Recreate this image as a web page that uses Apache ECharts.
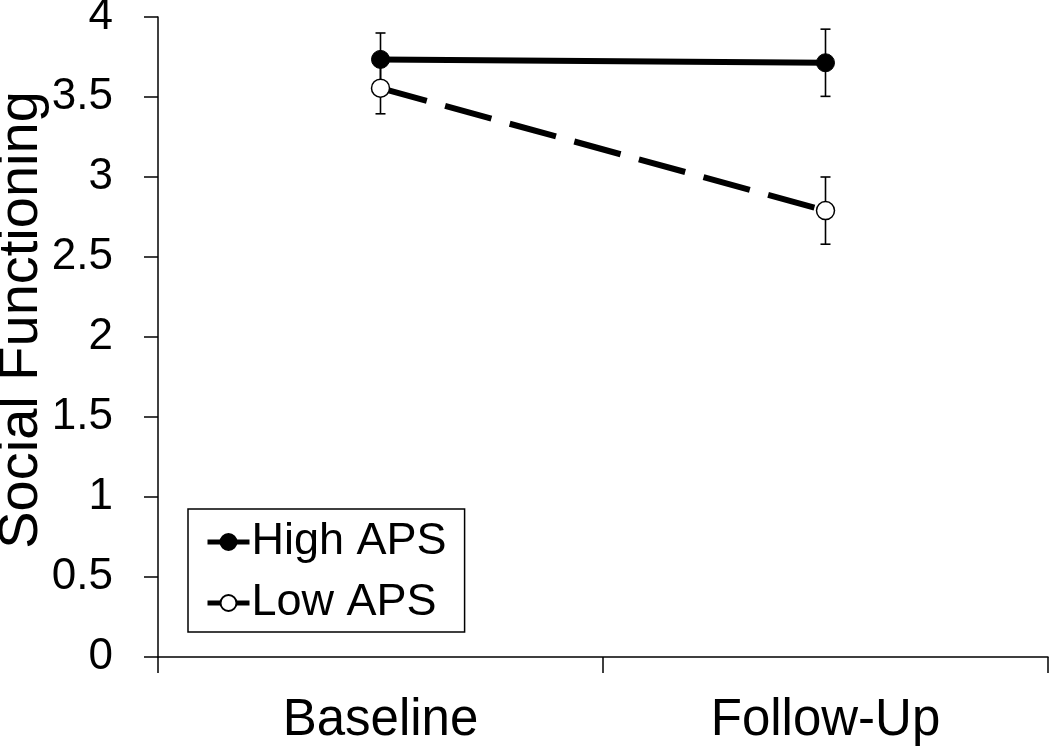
<!DOCTYPE html>
<html>
<head>
<meta charset="utf-8">
<script src="https://cdn.jsdelivr.net/npm/echarts@6/dist/echarts.min.js"></script>
<style>
html,body{margin:0;padding:0;background:#fff;}
#chart{width:1050px;height:748px;}
</style>
</head>
<body>
<div id="chart"></div>
<script>
const categories = ['Baseline', 'Follow-Up'];
const highAPS = [3.735, 3.714];
const highErr = [0.165, 0.21];
const lowAPS = [3.555, 2.79];
const lowErr = [0.16, 0.21];
const seriesNames = ['High APS', 'Low APS'];
const yTicks = { min: 0, max: 4, interval: 0.5 };

const FONT = '"Liberation Sans", Arial, sans-serif';

function errData(means, errs) {
  return means.map((m, i) => [i, m - errs[i], m + errs[i]]);
}
function errRender(params, api) {
  const x = api.value(0);
  const lo = api.coord([x, api.value(1)]);
  const hi = api.coord([x, api.value(2)]);
  const cap = 5;
  const st = { stroke: '#000', lineWidth: 1.6 };
  return {
    type: 'group',
    children: [
      { type: 'line', shape: { x1: lo[0], y1: lo[1], x2: hi[0], y2: hi[1] }, style: st },
      { type: 'line', shape: { x1: hi[0] - cap, y1: hi[1], x2: hi[0] + cap, y2: hi[1] }, style: st },
      { type: 'line', shape: { x1: lo[0] - cap, y1: lo[1], x2: lo[0] + cap, y2: lo[1] }, style: st }
    ]
  };
}

const chart = echarts.init(document.getElementById('chart'), null, { renderer: 'canvas' });
chart.setOption({
  animation: false,
  backgroundColor: '#fff',
  textStyle: { fontFamily: FONT, color: '#000' },
  grid: { left: 158, right: 2, top: 17, bottom: 91, containLabel: false, outerBoundsMode: 'none' },
  legend: {
    data: seriesNames.map(n => ({ name: n, lineStyle: { type: [100, 0], width: 5 } })),
    orient: 'vertical',
    left: 188,
    top: 509,
    padding: [8, 18, 4, 17],
    itemWidth: 42,
    itemHeight: 20,
    itemGap: 11,
    borderColor: '#000',
    borderWidth: 1.5,
    backgroundColor: '#fff',
    lineStyle: { type: [100, 0], width: 5 },
    textStyle: { fontFamily: FONT, fontSize: 45, color: '#000', lineHeight: 50, padding: [0, 0, 0, -3] }
  },
  xAxis: {
    type: 'category',
    data: categories,
    boundaryGap: true,
    axisLine: { lineStyle: { color: '#000', width: 1.5 } },
    axisTick: { show: true, length: 16, lineStyle: { color: '#000', width: 1.5 } },
    axisLabel: { fontFamily: FONT, fontSize: 51, color: '#000', margin: 38 }
  },
  yAxis: {
    type: 'value',
    min: yTicks.min,
    max: yTicks.max,
    interval: yTicks.interval,
    name: 'Social Functioning',
    nameLocation: 'middle',
    nameRotate: 90,
    nameGap: 108,
    nameMoveOverlap: false,
    nameTextStyle: { fontFamily: FONT, fontSize: 56, color: '#000', padding: [0, 0, 0, 34] },
    splitLine: { show: false },
    axisLine: { show: true, lineStyle: { color: '#000', width: 1.5 } },
    axisTick: { show: true, length: 14, lineStyle: { color: '#000', width: 1.5 } },
    axisLabel: { fontFamily: FONT, fontSize: 44, color: '#000', margin: 45 }
  },
  series: [
    {
      name: 'High APS err', type: 'custom', renderItem: errRender,
      data: errData(highAPS, highErr), z: 1, silent: true
    },
    {
      name: 'Low APS err', type: 'custom', renderItem: errRender,
      data: errData(lowAPS, lowErr), z: 1, silent: true
    },
    {
      name: seriesNames[0], type: 'line', data: highAPS, z: 3,
      symbol: 'circle', symbolSize: 18,
      lineStyle: { color: '#000', width: 6, type: 'solid' },
      itemStyle: { color: '#000', borderColor: '#000', borderWidth: 1 }
    },
    {
      name: seriesNames[1], type: 'line', data: lowAPS, z: 4,
      symbol: 'circle', symbolSize: 18,
      lineStyle: { color: '#000', width: 6, type: [48, 19] },
      itemStyle: { color: '#fff', borderColor: '#000', borderWidth: 1.5 }
    }
  ]
});
</script>
</body>
</html>
